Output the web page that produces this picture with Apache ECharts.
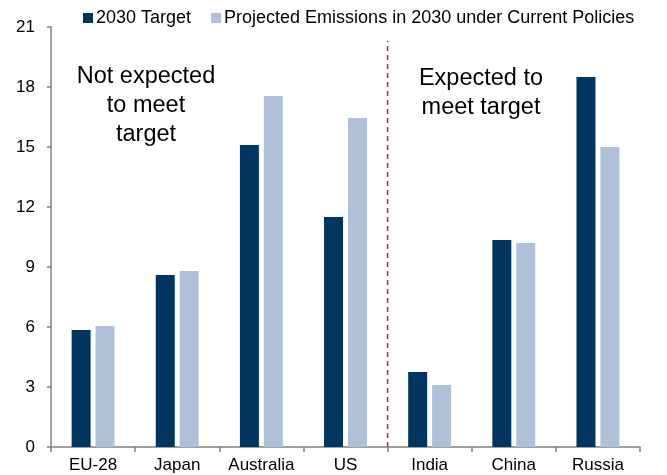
<!DOCTYPE html>
<html><head><meta charset="utf-8">
<script src="https://cdn.jsdelivr.net/npm/echarts@6/dist/echarts.min.js"></script>
<style>html,body{margin:0;padding:0;background:#fff}#c{width:667px;height:475px}</style>
</head><body><div id="c"></div>
<script>
const categories = ['EU-28','Japan','Australia','US','India','China','Russia'];
const target2030 = [5.85, 8.6, 15.1, 11.5, 3.75, 10.35, 18.5];
const projected2030 = [6.05, 8.8, 17.55, 16.45, 3.1, 10.2, 15.0];
const yTicks = {min: 0, max: 21, interval: 3};
const dividerAt = 4; // boundary between US and India (category index units)

const font = 'Liberation Sans, Arial, sans-serif';
const chart = echarts.init(document.getElementById('c'));
chart.setOption({
  animation: false,
  textStyle: {fontFamily: font},
  grid: {left: 51, right: 27, top: 27, bottom: 28, containLabel: false},
  legend: {
    top: 4, left: 78, itemWidth: 10, itemHeight: 10, itemGap: 20,
    icon: 'rect',
    textStyle: {fontSize: 18, color: '#000', fontFamily: font, padding: [0,0,0,-2]},
    data: ['2030 Target', 'Projected Emissions in 2030 under Current Policies']
  },
  xAxis: [{
    type: 'category', data: categories,
    axisLine: {lineStyle: {color: '#808080', width: 1.5}},
    axisTick: {show: true, length: 5, lineStyle: {color: '#808080', width: 1.5}},
    axisLabel: {fontSize: 17, color: '#000', margin: 10, fontFamily: font, interval: 0}
  }, {
    type: 'value', min: 0, max: 7, show: false
  }],
  yAxis: {
    type: 'value', min: yTicks.min, max: yTicks.max, interval: yTicks.interval,
    axisLine: {show: true, lineStyle: {color: '#808080', width: 1.5}},
    axisTick: {show: true, inside: false, length: 4, lineStyle: {color: '#808080', width: 1.5}},
    splitLine: {show: false},
    axisLabel: {fontSize: 17, color: '#000', margin: 16, fontFamily: font}
  },
  series: [{
    name: '2030 Target', type: 'bar', data: target2030,
    itemStyle: {color: '#00355f'}, barGap: '26%', barCategoryGap: '49%'
  }, {
    name: 'Projected Emissions in 2030 under Current Policies', type: 'bar', data: projected2030,
    itemStyle: {color: '#afc1d8'}
  }, {
    type: 'line', xAxisIndex: 1, symbol: 'none', silent: true, z: 5,
    color: '#e8141e',
    data: [[dividerAt, yTicks.min], [dividerAt, 20.3]],
    itemStyle: {color: '#e8141e'},
    lineStyle: {color: '#e8141e', type: [5, 4], width: 1.5}
  }],
  graphic: [{
    type: 'text', x: 146, y: 62,
    style: {text: 'Not expected\nto meet\ntarget', font: '23.5px ' + font, fill: '#000', lineHeight: 29, align: 'center'}
  }, {
    type: 'text', x: 481, y: 64,
    style: {text: 'Expected to\nmeet target', font: '23.5px ' + font, fill: '#000', lineHeight: 29, align: 'center'}
  }]
});
</script></body></html>
